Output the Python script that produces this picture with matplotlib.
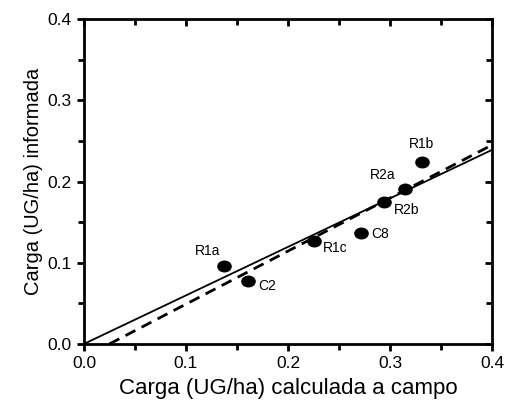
import matplotlib.pyplot as plt
import numpy as np
from matplotlib.path import Path
from matplotlib.transforms import Affine2D
from matplotlib.ticker import MultipleLocator

# points
names = ['R1a', 'C2', 'R1c', 'C8', 'R2b', 'R2a', 'R1b']
calc = [0.137, 0.161, 0.225, 0.272, 0.294, 0.315, 0.331]
inf = [0.096, 0.078, 0.127, 0.137, 0.175, 0.191, 0.224]

# label offsets (points) for each name
offs = [(-12, 6), (7, -4), (7, -5), (7, -1), (7, -6), (-7, 5), (0, 8)]
aligns = ['center', 'left', 'left', 'left', 'left', 'right', 'center']

# fitted lines (end points)
solid_x = [0.0, 0.4]
solid_y = [0.0, 0.239]
dash_x = [0.025, 0.4]
dash_y = [0.0, 0.245]

plt.rcParams['font.family'] = ['Liberation Sans', 'DejaVu Sans']

ellipse = Path.unit_circle().transformed(Affine2D().scale(1.25, 1.0))

fig = plt.figure(figsize=(5.12, 4.07), dpi=100)
ax = fig.add_axes([0.164, 0.155, 0.797, 0.798])

ax.plot(solid_x, solid_y, 'k-', linewidth=1.3)
ax.plot(dash_x, dash_y, 'k--', linewidth=2.0, dashes=(4, 2.5))
ax.plot(calc, inf, linestyle='none', marker=ellipse, markersize=9.5, color='k')

for n, x, y, o, ha in zip(names, calc, inf, offs, aligns):
    va = 'bottom' if o[1] > 3 else 'center'
    ax.annotate(n, (x, y), xytext=o, textcoords='offset points',
                ha=ha, va=va, fontsize=10)

ax.set_xlim(0, 0.4)
ax.set_ylim(0, 0.4)
ax.xaxis.set_major_locator(MultipleLocator(0.1))
ax.yaxis.set_major_locator(MultipleLocator(0.1))
ax.xaxis.set_minor_locator(MultipleLocator(0.05))
ax.yaxis.set_minor_locator(MultipleLocator(0.05))
ax.xaxis.set_major_formatter(plt.FormatStrFormatter('%.1f'))
ax.yaxis.set_major_formatter(plt.FormatStrFormatter('%.1f'))

for s in ax.spines.values():
    s.set_linewidth(2.0)
ax.tick_params(which='both', direction='out', width=2.0, labelsize=12.5)
ax.tick_params(which='major', length=5, pad=4)
ax.tick_params(which='minor', length=4)
ax.tick_params(which='both', top=True, right=True)

# top/right ticks point inward
for t in ax.xaxis.get_major_ticks() + ax.xaxis.get_minor_ticks():
    t.tick2line.set_marker(3)
for t in ax.yaxis.get_major_ticks() + ax.yaxis.get_minor_ticks():
    t.tick2line.set_marker(0)

ax.set_xlabel('Carga (UG/ha) calculada a campo', fontsize=16, labelpad=5)
ax.set_ylabel('Carga (UG/ha) informada', fontsize=14.5, labelpad=3)

fig.savefig('out.png', dpi=100)
